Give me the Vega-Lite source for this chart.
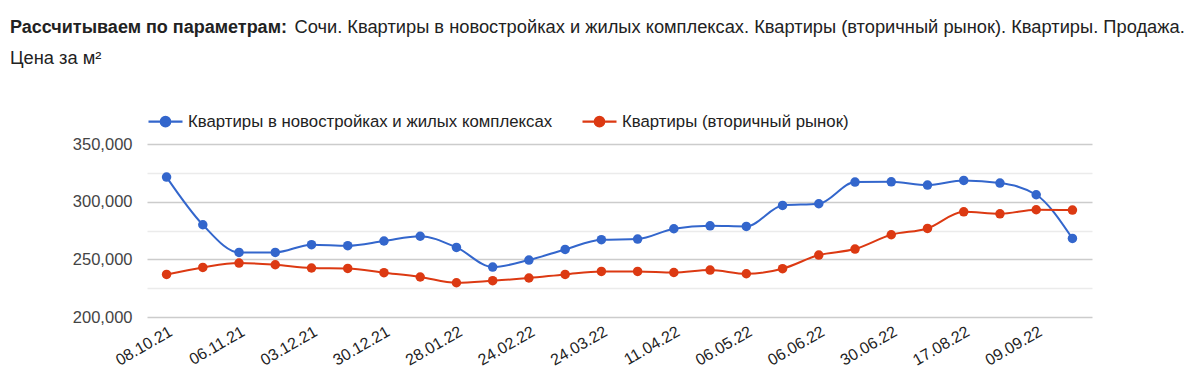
{
  "$schema": "https://vega.github.io/schema/vega-lite/v6.json",
  "width": 945,
  "height": 173,
  "autosize": {"type": "none"},
  "padding": {"left": 147, "top": 144, "right": 108, "bottom": 75},
  "background": "white",
  "title": {
    "text": "Рассчитываем по параметрам:",
    "subtitle": ["\u200b\u00a0\u00a0\u00a0\u00a0\u00a0\u00a0\u00a0\u00a0\u00a0\u00a0\u00a0\u00a0\u00a0\u00a0\u00a0\u00a0\u00a0\u00a0\u00a0\u00a0\u00a0\u00a0\u00a0\u00a0\u00a0\u00a0\u00a0\u00a0\u00a0\u00a0\u00a0\u00a0\u00a0\u00a0\u00a0\u00a0\u00a0\u00a0\u00a0\u00a0\u00a0\u00a0\u00a0\u00a0\u00a0\u00a0\u00a0\u00a0\u00a0\u00a0\u00a0\u00a0\u00a0\u00a0\u00a0\u00a0Сочи. Квартиры в новостройках и жилых комплексах. Квартиры (вторичный рынок). Квартиры. Продажа.", "Цена за м²"],
    "anchor": "start",
    "frame": "group",
    "dx": -137,
    "offset": 35,
    "fontSize": 18,
    "fontWeight": "bold",
    "color": "#222222",
    "subtitleFontSize": 18.3,
    "subtitleColor": "#222222",
    "subtitleLineHeight": 31,
    "subtitlePadding": -18
  },
  "config": {
    "font": "Liberation Sans",
    "view": {"stroke": null}
  },
  "data": {
    "values": [
      {"date": "08.10.21", "series": "Квартиры в новостройках и жилых комплексах", "value": 321300},
      {"date": "22.10.21", "series": "Квартиры в новостройках и жилых комплексах", "value": 280000},
      {"date": "06.11.21", "series": "Квартиры в новостройках и жилых комплексах", "value": 256000},
      {"date": "20.11.21", "series": "Квартиры в новостройках и жилых комплексах", "value": 256000},
      {"date": "03.12.21", "series": "Квартиры в новостройках и жилых комплексах", "value": 262700},
      {"date": "17.12.21", "series": "Квартиры в новостройках и жилых комплексах", "value": 261800},
      {"date": "30.12.21", "series": "Квартиры в новостройках и жилых комплексах", "value": 265900},
      {"date": "14.01.22", "series": "Квартиры в новостройках и жилых комплексах", "value": 270000},
      {"date": "28.01.22", "series": "Квартиры в новостройках и жилых комплексах", "value": 260300},
      {"date": "11.02.22", "series": "Квартиры в новостройках и жилых комплексах", "value": 243300},
      {"date": "24.02.22", "series": "Квартиры в новостройках и жилых комплексах", "value": 249400},
      {"date": "10.03.22", "series": "Квартиры в новостройках и жилых комплексах", "value": 258600},
      {"date": "24.03.22", "series": "Квартиры в новостройках и жилых комплексах", "value": 267000},
      {"date": "02.04.22", "series": "Квартиры в новостройках и жилых комплексах", "value": 267600},
      {"date": "11.04.22", "series": "Квартиры в новостройках и жилых комплексах", "value": 276500},
      {"date": "22.04.22", "series": "Квартиры в новостройках и жилых комплексах", "value": 279100},
      {"date": "06.05.22", "series": "Квартиры в новостройках и жилых комплексах", "value": 278500},
      {"date": "20.05.22", "series": "Квартиры в новостройках и жилых комплексах", "value": 296700},
      {"date": "06.06.22", "series": "Квартиры в новостройках и жилых комплексах", "value": 298200},
      {"date": "17.06.22", "series": "Квартиры в новостройках и жилых комплексах", "value": 317000},
      {"date": "30.06.22", "series": "Квартиры в новостройках и жилых комплексах", "value": 317200},
      {"date": "25.07.22", "series": "Квартиры в новостройках и жилых комплексах", "value": 314400},
      {"date": "17.08.22", "series": "Квартиры в новостройках и жилых комплексах", "value": 318400},
      {"date": "28.08.22", "series": "Квартиры в новостройках и жилых комплексах", "value": 316100},
      {"date": "09.09.22", "series": "Квартиры в новостройках и жилых комплексах", "value": 306000},
      {"date": "23.09.22", "series": "Квартиры в новостройках и жилых комплексах", "value": 268100},
      {"date": "08.10.21", "series": "Квартиры (вторичный рынок)", "value": 236900},
      {"date": "22.10.21", "series": "Квартиры (вторичный рынок)", "value": 243000},
      {"date": "06.11.21", "series": "Квартиры (вторичный рынок)", "value": 246800},
      {"date": "20.11.21", "series": "Квартиры (вторичный рынок)", "value": 245300},
      {"date": "03.12.21", "series": "Квартиры (вторичный рынок)", "value": 242500},
      {"date": "17.12.21", "series": "Квартиры (вторичный рынок)", "value": 242100},
      {"date": "30.12.21", "series": "Квартиры (вторичный рынок)", "value": 238400},
      {"date": "14.01.22", "series": "Квартиры (вторичный рынок)", "value": 234700},
      {"date": "28.01.22", "series": "Квартиры (вторичный рынок)", "value": 229700},
      {"date": "11.02.22", "series": "Квартиры (вторичный рынок)", "value": 231500},
      {"date": "24.02.22", "series": "Квартиры (вторичный рынок)", "value": 233800},
      {"date": "10.03.22", "series": "Квартиры (вторичный рынок)", "value": 236900},
      {"date": "24.03.22", "series": "Квартиры (вторичный рынок)", "value": 239500},
      {"date": "02.04.22", "series": "Квартиры (вторичный рынок)", "value": 239500},
      {"date": "11.04.22", "series": "Квартиры (вторичный рынок)", "value": 238600},
      {"date": "22.04.22", "series": "Квартиры (вторичный рынок)", "value": 240700},
      {"date": "06.05.22", "series": "Квартиры (вторичный рынок)", "value": 237500},
      {"date": "20.05.22", "series": "Квартиры (вторичный рынок)", "value": 241900},
      {"date": "06.06.22", "series": "Квартиры (вторичный рынок)", "value": 253700},
      {"date": "17.06.22", "series": "Квартиры (вторичный рынок)", "value": 258900},
      {"date": "30.06.22", "series": "Квартиры (вторичный рынок)", "value": 271300},
      {"date": "25.07.22", "series": "Квартиры (вторичный рынок)", "value": 276800},
      {"date": "17.08.22", "series": "Квартиры (вторичный рынок)", "value": 291200},
      {"date": "28.08.22", "series": "Квартиры (вторичный рынок)", "value": 289500},
      {"date": "09.09.22", "series": "Квартиры (вторичный рынок)", "value": 293000},
      {"date": "23.09.22", "series": "Квартиры (вторичный рынок)", "value": 292700}
    ]
  },
  "mark": {
    "type": "line",
    "strokeWidth": 2,
    "interpolate": "monotone",
    "point": {"filled": true, "size": 90, "opacity": 1}
  },
  "encoding": {
    "x": {
      "field": "date",
      "type": "ordinal",
      "sort": null,
      "scale": {"type": "point", "padding": 0.54},
      "axis": {
        "title": null,
        "values": ["08.10.21", "06.11.21", "03.12.21", "30.12.21", "28.01.22", "24.02.22", "24.03.22", "11.04.22", "06.05.22", "06.06.22", "30.06.22", "17.08.22", "09.09.22"],
        "labelAngle": -30,
        "labelFontSize": 16,
        "labelColor": "#222222",
        "labelPadding": 6,
        "ticks": false,
        "domain": false,
        "grid": false
      }
    },
    "y": {
      "field": "value",
      "type": "quantitative",
      "scale": {"domain": [200000, 350000], "nice": false, "zero": false},
      "axis": {
        "title": null,
        "values": [200000, 225000, 250000, 275000, 300000, 325000, 350000],
        "labelExpr": "datum.value % 50000 === 0 ? format(datum.value, ',') : ''",
        "labelFontSize": 16.5,
        "labelColor": "#444444",
        "labelPadding": 15,
        "ticks": false,
        "domain": false,
        "grid": true,
        "gridColor": {"condition": {"test": "datum.value % 50000 === 0", "value": "#cccccc"}, "value": "#ebebeb"},
        "gridWidth": 1.5
      }
    },
    "color": {
      "field": "series",
      "type": "nominal",
      "sort": null,
      "scale": {
        "domain": ["Квартиры в новостройках и жилых комплексах", "Квартиры (вторичный рынок)"],
        "range": ["#3366cc", "#dc3912"]
      },
      "legend": {
        "title": null,
        "orient": "top",
        "direction": "horizontal",
        "offset": 13,
        "labelFontSize": 16.8,
        "labelColor": "#222222",
        "labelLimit": 600,
        "columnPadding": 25,
        "symbolType": "M-1,0L1,0M-0.28,0a0.28,0.28 0 1,0 0.56,0a0.28,0.28 0 1,0 -0.56,0",
        "symbolSize": 1156,
        "symbolStrokeWidth": 2.2,
        "labelOffset": 4,
        "encode": {"symbols": {"update": {"fill": {"scale": "color", "field": "value"}}}}
      }
    }
  }
}
